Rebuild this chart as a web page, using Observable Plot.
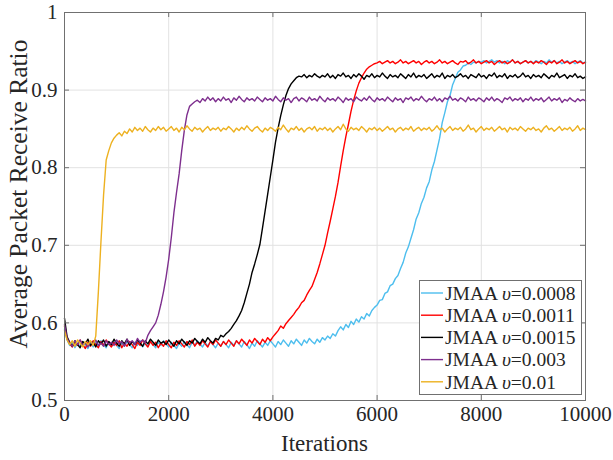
<!DOCTYPE html>
<html><head><meta charset="utf-8">
<script src="https://cdn.jsdelivr.net/npm/d3@7"></script>
<script src="https://cdn.jsdelivr.net/npm/@observablehq/plot@0.6"></script>
<style>body{margin:0;background:#fff} #chart svg{display:block}</style>
</head><body><div id="chart"></div>
<script>
const iterations = d3.range(0, 10001, 50);
const xTicks = [0, 2000, 4000, 6000, 8000, 10000];
const xTickLabels = ["0", "2000", "4000", "6000", "8000", "10000"];
const yTicks = [0.5, 0.6, 0.7, 0.8, 0.9, 1];
const yTickLabels = ["0.5", "0.6", "0.7", "0.8", "0.9", "1"];
const xLabel = "Iterations";
const yLabel = "Average Packet Receive Ratio";
const seriesPrefix = "JMAA ";
const seriesSymbol = "υ";
const seriesParams = ["0.0008", "0.0011", "0.0015", "0.003", "0.01"];
const seriesColors = ["#4DBEEE", "#FF0000", "#000000", "#7E2F8E", "#EDB120"];

const v0008 = [
0.592,0.578,0.571,0.575,0.568,0.574,0.570,0.576,0.571,0.567,0.574,0.569,0.575,0.571,0.577,0.572,0.568,0.575,0.570,0.576,
0.571,0.567,0.574,0.570,0.576,0.572,0.568,0.575,0.571,0.577,0.569,0.574,0.570,0.576,0.572,0.568,0.575,0.571,0.577,0.573,
0.569,0.575,0.571,0.567,0.574,0.570,0.576,0.572,0.568,0.575,0.571,0.577,0.573,0.569,0.575,0.570,0.576,0.572,0.568,0.574,
0.570,0.576,0.572,0.568,0.575,0.571,0.577,0.573,0.569,0.576,0.572,0.567,0.574,0.570,0.577,0.573,0.569,0.575,0.571,0.577,
0.573,0.569,0.576,0.572,0.578,0.574,0.570,0.577,0.573,0.579,0.575,0.571,0.578,0.574,0.580,0.576,0.573,0.579,0.575,0.581,
0.578,0.583,0.580,0.586,0.583,0.590,0.595,0.591,0.598,0.594,0.602,0.598,0.605,0.601,0.608,0.605,0.612,0.609,0.616,0.620,
0.623,0.629,0.630,0.638,0.640,0.648,0.650,0.657,0.661,0.670,0.678,0.690,0.698,0.709,0.720,0.734,0.742,0.754,0.762,0.774,
0.782,0.797,0.808,0.823,0.838,0.858,0.871,0.885,0.893,0.907,0.915,0.923,0.926,0.931,0.932,0.935,0.933,0.936,0.935,0.937,
0.936,0.938,0.935,0.937,0.939,0.936,0.938,0.935,0.937,0.934,0.938,0.936,0.939,0.935,0.937,0.934,0.936,0.938,0.935,0.937,
0.935,0.938,0.936,0.934,0.937,0.935,0.939,0.936,0.938,0.935,0.937,0.934,0.936,0.938,0.935,0.937,0.934,0.936,0.938,0.935,
0.936];

const v0011 = [
0.596,0.580,0.573,0.569,0.576,0.571,0.578,0.572,0.567,0.575,0.570,0.577,0.572,0.568,0.576,0.571,0.578,0.573,0.569,0.575,
0.571,0.577,0.568,0.574,0.570,0.576,0.572,0.567,0.575,0.571,0.578,0.573,0.569,0.576,0.571,0.575,0.568,0.574,0.570,0.577,
0.572,0.568,0.575,0.571,0.577,0.573,0.569,0.576,0.572,0.578,0.570,0.575,0.571,0.577,0.573,0.569,0.576,0.572,0.578,0.574,
0.570,0.576,0.572,0.578,0.574,0.570,0.577,0.573,0.579,0.575,0.571,0.578,0.574,0.580,0.576,0.572,0.579,0.575,0.581,0.577,
0.582,0.586,0.590,0.596,0.593,0.599,0.603,0.607,0.611,0.616,0.620,0.626,0.629,0.636,0.642,0.647,0.656,0.665,0.676,0.688,
0.700,0.716,0.731,0.747,0.763,0.781,0.802,0.822,0.840,0.856,0.873,0.887,0.899,0.909,0.916,0.922,0.927,0.930,0.932,0.934,
0.935,0.937,0.934,0.936,0.938,0.935,0.937,0.934,0.936,0.939,0.935,0.937,0.934,0.936,0.938,0.935,0.937,0.933,0.936,0.938,
0.935,0.937,0.934,0.936,0.939,0.935,0.937,0.934,0.936,0.938,0.935,0.933,0.937,0.936,0.938,0.934,0.936,0.939,0.935,0.937,
0.934,0.936,0.938,0.935,0.937,0.933,0.936,0.938,0.935,0.937,0.934,0.936,0.939,0.935,0.937,0.934,0.936,0.938,0.935,0.937,
0.934,0.937,0.935,0.938,0.936,0.933,0.937,0.935,0.938,0.934,0.936,0.939,0.935,0.937,0.934,0.936,0.938,0.935,0.937,0.934,
0.936];

const v0015 = [
0.606,0.582,0.575,0.570,0.577,0.572,0.568,0.576,0.573,0.579,0.571,0.575,0.569,0.577,0.573,0.578,0.570,0.576,0.572,0.579,
0.574,0.570,0.577,0.573,0.579,0.571,0.576,0.572,0.578,0.574,0.570,0.577,0.573,0.579,0.575,0.571,0.578,0.574,0.576,0.572,
0.578,0.574,0.570,0.577,0.573,0.579,0.575,0.571,0.577,0.574,0.580,0.576,0.573,0.579,0.575,0.581,0.577,0.574,0.580,0.578,
0.584,0.582,0.586,0.589,0.593,0.598,0.603,0.609,0.616,0.626,0.638,0.650,0.665,0.676,0.688,0.701,0.722,0.744,0.766,0.788,
0.810,0.833,0.851,0.867,0.881,0.893,0.902,0.908,0.912,0.916,0.918,0.917,0.920,0.916,0.919,0.917,0.921,0.918,0.916,0.919,
0.917,0.921,0.916,0.919,0.915,0.920,0.918,0.922,0.917,0.919,0.915,0.920,0.917,0.921,0.918,0.914,0.919,0.917,0.921,0.916,
0.919,0.917,0.922,0.918,0.915,0.920,0.917,0.919,0.916,0.921,0.918,0.915,0.920,0.917,0.922,0.916,0.919,0.917,0.920,0.915,
0.918,0.921,0.916,0.919,0.917,0.922,0.915,0.919,0.917,0.920,0.916,0.918,0.921,0.917,0.919,0.915,0.920,0.918,0.916,0.921,
0.917,0.919,0.915,0.920,0.918,0.922,0.916,0.919,0.917,0.921,0.915,0.919,0.917,0.920,0.916,0.918,0.922,0.917,0.919,0.915,
0.920,0.917,0.919,0.916,0.921,0.918,0.915,0.919,0.917,0.922,0.916,0.918,0.920,0.915,0.919,0.917,0.921,0.916,0.918,0.915,
0.917];

const v003 = [
0.598,0.580,0.574,0.570,0.577,0.572,0.578,0.571,0.575,0.569,0.576,0.573,0.578,0.571,0.574,0.570,0.577,0.572,0.575,0.571,
0.578,0.573,0.576,0.570,0.579,0.574,0.577,0.572,0.580,0.575,0.578,0.574,0.584,0.590,0.595,0.600,0.610,0.624,0.640,0.659,
0.682,0.710,0.742,0.768,0.792,0.822,0.848,0.868,0.879,0.882,0.885,0.887,0.884,0.889,0.886,0.891,0.887,0.890,0.885,0.889,
0.886,0.891,0.887,0.889,0.884,0.890,0.887,0.892,0.888,0.885,0.890,0.887,0.889,0.886,0.891,0.888,0.885,0.890,0.887,0.889,
0.886,0.892,0.888,0.885,0.890,0.887,0.889,0.884,0.889,0.891,0.886,0.890,0.888,0.885,0.891,0.887,0.889,0.886,0.892,0.888,
0.885,0.890,0.887,0.889,0.886,0.891,0.888,0.884,0.890,0.887,0.889,0.885,0.891,0.888,0.886,0.890,0.887,0.892,0.888,0.885,
0.890,0.887,0.889,0.886,0.891,0.888,0.885,0.890,0.887,0.889,0.884,0.890,0.888,0.891,0.886,0.889,0.887,0.892,0.888,0.885,
0.889,0.887,0.891,0.886,0.889,0.885,0.890,0.888,0.892,0.887,0.889,0.886,0.890,0.888,0.885,0.891,0.887,0.889,0.886,0.890,
0.888,0.885,0.890,0.887,0.891,0.886,0.889,0.887,0.884,0.890,0.888,0.891,0.886,0.889,0.887,0.890,0.885,0.889,0.887,0.891,
0.886,0.889,0.887,0.890,0.885,0.888,0.891,0.886,0.889,0.887,0.890,0.884,0.888,0.886,0.890,0.887,0.885,0.889,0.886,0.888,
0.886];

const v001 = [
0.590,0.578,0.572,0.577,0.570,0.578,0.574,0.569,0.576,0.572,0.577,0.571,0.583,0.640,0.705,0.765,0.810,0.822,0.832,0.838,
0.842,0.845,0.841,0.847,0.844,0.850,0.846,0.852,0.848,0.851,0.847,0.853,0.849,0.846,0.851,0.848,0.853,0.849,0.852,0.847,
0.850,0.853,0.848,0.851,0.846,0.852,0.849,0.854,0.850,0.847,0.852,0.849,0.851,0.846,0.850,0.853,0.848,0.851,0.849,0.852,
0.847,0.851,0.849,0.853,0.850,0.846,0.851,0.848,0.852,0.849,0.854,0.850,0.847,0.851,0.853,0.849,0.846,0.851,0.848,0.852,
0.850,0.847,0.852,0.849,0.855,0.850,0.846,0.851,0.849,0.853,0.848,0.851,0.846,0.850,0.852,0.849,0.853,0.847,0.851,0.849,
0.852,0.848,0.851,0.846,0.850,0.853,0.849,0.856,0.850,0.847,0.852,0.849,0.851,0.848,0.853,0.850,0.846,0.851,0.849,0.852,
0.848,0.851,0.847,0.850,0.853,0.849,0.851,0.846,0.850,0.852,0.848,0.851,0.849,0.853,0.847,0.850,0.852,0.848,0.851,0.849,
0.852,0.847,0.850,0.854,0.849,0.851,0.846,0.850,0.853,0.848,0.851,0.849,0.852,0.847,0.850,0.855,0.849,0.851,0.846,0.850,
0.853,0.848,0.851,0.849,0.852,0.847,0.850,0.853,0.849,0.851,0.846,0.852,0.849,0.851,0.848,0.853,0.850,0.847,0.851,0.849,
0.852,0.848,0.850,0.846,0.851,0.854,0.849,0.851,0.847,0.850,0.853,0.848,0.851,0.849,0.852,0.847,0.850,0.854,0.848,0.851,
0.849];

const seriesValues = [v0008, v0011, v0015, v003, v001];

const W = 613, H = 460, mL = 64, mR = 28, mT = 12, mB = 60;
const pw = W - mL - mR, ph = H - mT - mB, tk = 5;
const axisColor = "#707070", gridColor = "#e2e2e2", textColor = "#262626";
const font = "Liberation Serif, Times New Roman, serif";

const lineMarks = seriesValues.map((vals, s) =>
  Plot.line(vals, {x: (d, i) => iterations[i], y: d => d, stroke: seriesColors[s], strokeWidth: 1.4, curve: "linear"})
);

const chart = Plot.plot({
  width: W, height: H,
  marginLeft: mL, marginRight: mR, marginTop: mT, marginBottom: mB,
  style: {fontFamily: font, background: "white", color: textColor},
  x: {domain: [0, 10000]},
  y: {domain: [0.5, 1]},
  marks: [
    Plot.gridX(xTicks, {stroke: gridColor, strokeOpacity: 1}),
    Plot.gridY(yTicks, {stroke: gridColor, strokeOpacity: 1}),
    ...lineMarks,
    Plot.frame({stroke: axisColor}),
    Plot.ruleX(xTicks, {stroke: axisColor, insetTop: ph - tk}),
    Plot.ruleX(xTicks, {stroke: axisColor, insetBottom: ph - tk}),
    Plot.ruleY(yTicks, {stroke: axisColor, insetRight: pw - tk}),
    Plot.ruleY(yTicks, {stroke: axisColor, insetLeft: pw - tk}),
    Plot.axisX(xTicks, {tickSize: 0, tickPadding: 6, fontSize: 21, fontFamily: font, label: null,
      tickFormat: d => xTickLabels[xTicks.indexOf(d)]}),
    Plot.axisY(yTicks, {tickSize: 0, tickPadding: 7, fontSize: 21, fontFamily: font, label: null,
      tickFormat: d => yTickLabels[yTicks.indexOf(d)]})
  ]
});

const svg = d3.select(chart);
svg.append("text").attr("x", mL + pw / 2).attr("y", 451).attr("text-anchor", "middle")
  .style("font-family", font).attr("font-size", 23).attr("fill", textColor).text(xLabel);
svg.append("text").attr("transform", `translate(27,${mT + ph / 2 - 12}) rotate(-90)`).attr("text-anchor", "middle")
  .style("font-family", font).attr("font-size", 25.5).attr("fill", textColor).text(yLabel);

const lg = svg.append("g").style("font-family", font).attr("font-size", 19.5).attr("fill", textColor);
lg.append("rect").attr("x", 419.5).attr("y", 280.5).attr("width", 162).attr("height", 114)
  .attr("fill", "white").attr("stroke", axisColor);
seriesParams.forEach((p, i) => {
  const y = 293 + i * 22.2;
  lg.append("line").attr("x1", 421).attr("x2", 443).attr("y1", y).attr("y2", y)
    .attr("stroke", seriesColors[i]).attr("stroke-width", 1.4);
  const t = lg.append("text").attr("x", 445).attr("y", y).attr("dy", "0.35em").attr("text-anchor", "start");
  t.append("tspan").text(seriesPrefix);
  t.append("tspan").attr("font-style", "italic").text(seriesSymbol);
  t.append("tspan").text("=" + p);
});

document.getElementById("chart").appendChild(chart);
</script>
</body></html>
